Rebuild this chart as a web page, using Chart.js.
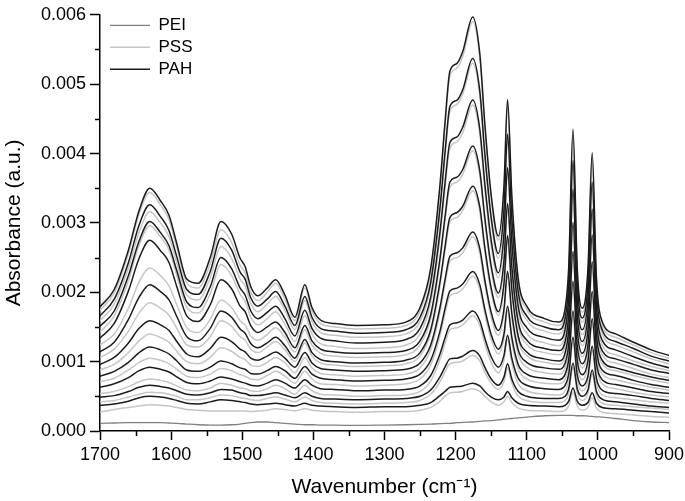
<!DOCTYPE html>
<html>
<head>
<meta charset="utf-8">
<script src="https://cdn.jsdelivr.net/npm/chart.js@4.4.1/dist/chart.umd.min.js"></script>
<style>
html,body{margin:0;padding:0;background:#fff;}
#wrap{width:685px;height:501px;position:relative;}
</style>
</head>
<body>
<div id="wrap"><canvas id="c"></canvas></div>
<script>
// Wavenumber grid (cm-1) shared by all spectra
const wavenumbers = [1700,1680,1660,1645,1630,1615,1603,1592,1578,1562,1545,1530,1515,1503,1496,1488,1478,1465,1453,1440,1426,1412,1402,1390,1370,1340,1300,1270,1250,1235,1222,1215,1208,1198,1190,1176,1166,1159,1150,1140,1132,1127,1121,1112,1100,1075,1055,1046,1041,1035,1029,1022,1014,1008,1002,994,975,950,925,900];

// Absorbance values, in units of 1e-3 a.u.
const pei = [0.11,0.115,0.12,0.12,0.12,0.12,0.115,0.11,0.10,0.09,0.085,0.085,0.09,0.10,0.11,0.12,0.13,0.13,0.12,0.11,0.10,0.09,0.09,0.085,0.085,0.08,0.085,0.09,0.095,0.10,0.105,0.11,0.11,0.12,0.125,0.13,0.14,0.145,0.15,0.16,0.17,0.175,0.18,0.19,0.20,0.22,0.225,0.225,0.225,0.225,0.22,0.22,0.215,0.21,0.205,0.20,0.18,0.15,0.13,0.12];

const pss1 = [0.27,0.31,0.34,0.36,0.38,0.37,0.36,0.34,0.31,0.30,0.29,0.29,0.29,0.29,0.29,0.28,0.29,0.30,0.32,0.31,0.29,0.32,0.30,0.29,0.28,0.27,0.28,0.28,0.30,0.34,0.43,0.50,0.55,0.56,0.57,0.61,0.57,0.50,0.42,0.37,0.42,0.50,0.41,0.33,0.30,0.29,0.28,0.30,0.36,0.55,0.36,0.30,0.34,0.48,0.33,0.27,0.25,0.23,0.21,0.20];
const pah1 = [0.37,0.39,0.43,0.48,0.50,0.49,0.47,0.44,0.40,0.39,0.42,0.45,0.44,0.42,0.41,0.39,0.38,0.39,0.40,0.38,0.36,0.40,0.37,0.36,0.35,0.34,0.35,0.35,0.37,0.41,0.51,0.57,0.63,0.64,0.65,0.69,0.65,0.57,0.49,0.45,0.49,0.57,0.48,0.40,0.37,0.36,0.35,0.37,0.43,0.62,0.43,0.37,0.41,0.55,0.40,0.34,0.32,0.30,0.28,0.26];
const pss2 = [0.42,0.44,0.49,0.53,0.56,0.55,0.53,0.50,0.45,0.45,0.48,0.52,0.51,0.48,0.47,0.45,0.44,0.47,0.49,0.46,0.42,0.49,0.44,0.41,0.40,0.39,0.40,0.41,0.44,0.53,0.71,0.85,0.97,0.99,1.01,1.09,1.01,0.85,0.69,0.60,0.71,0.91,0.69,0.50,0.44,0.41,0.41,0.44,0.55,0.92,0.55,0.44,0.53,0.82,0.51,0.40,0.37,0.35,0.33,0.31];
const pah2 = [0.49,0.51,0.57,0.63,0.66,0.64,0.62,0.58,0.53,0.52,0.55,0.60,0.59,0.55,0.54,0.51,0.51,0.53,0.55,0.52,0.48,0.55,0.50,0.47,0.46,0.45,0.46,0.47,0.50,0.59,0.78,0.92,1.04,1.05,1.08,1.16,1.08,0.92,0.75,0.66,0.78,0.97,0.75,0.57,0.50,0.47,0.47,0.50,0.61,0.98,0.61,0.50,0.59,0.88,0.57,0.46,0.42,0.39,0.36,0.34];
const pss3 = [0.54,0.57,0.64,0.71,0.75,0.73,0.70,0.65,0.59,0.58,0.62,0.69,0.66,0.62,0.61,0.58,0.57,0.61,0.66,0.61,0.53,0.66,0.58,0.53,0.52,0.50,0.51,0.52,0.57,0.72,1.03,1.26,1.46,1.49,1.53,1.66,1.52,1.26,0.99,0.84,1.02,1.32,0.98,0.68,0.58,0.53,0.52,0.58,0.74,1.29,0.74,0.58,0.72,1.16,0.69,0.52,0.48,0.45,0.42,0.40];
const pah3 = [0.63,0.68,0.77,0.87,0.92,0.89,0.85,0.78,0.70,0.68,0.72,0.78,0.75,0.71,0.69,0.66,0.65,0.69,0.74,0.69,0.62,0.74,0.66,0.61,0.60,0.58,0.59,0.60,0.65,0.80,1.11,1.34,1.53,1.56,1.60,1.73,1.59,1.34,1.07,0.92,1.09,1.38,1.05,0.76,0.66,0.61,0.60,0.66,0.82,1.35,0.81,0.65,0.79,1.22,0.76,0.59,0.54,0.51,0.47,0.44];
const pss4 = [0.71,0.76,0.88,0.99,1.05,1.02,0.97,0.89,0.79,0.77,0.82,0.90,0.87,0.81,0.79,0.75,0.74,0.80,0.86,0.79,0.69,0.86,0.75,0.68,0.67,0.65,0.66,0.68,0.75,0.95,1.37,1.69,1.95,1.99,2.05,2.23,2.04,1.69,1.32,1.11,1.34,1.74,1.29,0.89,0.75,0.69,0.68,0.75,0.96,1.67,0.95,0.74,0.95,1.56,0.91,0.68,0.61,0.56,0.52,0.49];
const pah4 = [0.79,0.86,0.99,1.13,1.21,1.17,1.11,1.01,0.88,0.86,0.92,1.01,0.97,0.91,0.89,0.83,0.82,0.87,0.93,0.87,0.76,0.93,0.82,0.76,0.74,0.72,0.73,0.75,0.82,1.02,1.44,1.76,2.02,2.06,2.12,2.30,2.11,1.76,1.39,1.18,1.40,1.80,1.35,0.96,0.82,0.76,0.74,0.82,1.03,1.73,1.02,0.81,1.01,1.62,0.97,0.74,0.67,0.62,0.57,0.54];
const pss5 = [0.88,0.96,1.13,1.30,1.40,1.35,1.28,1.15,1.00,0.97,1.06,1.20,1.15,1.06,1.03,0.95,0.93,0.99,1.06,0.98,0.84,1.06,0.91,0.83,0.81,0.79,0.80,0.82,0.91,1.17,1.71,2.11,2.45,2.50,2.57,2.80,2.56,2.11,1.64,1.38,1.70,2.24,1.63,1.10,0.92,0.84,0.82,0.91,1.19,2.10,1.18,0.91,1.17,1.95,1.11,0.82,0.74,0.68,0.63,0.59];
const pah5 = [0.96,1.06,1.27,1.48,1.59,1.53,1.45,1.29,1.11,1.07,1.19,1.35,1.29,1.18,1.14,1.05,1.02,1.08,1.14,1.05,0.92,1.13,0.98,0.90,0.88,0.86,0.87,0.89,0.98,1.24,1.78,2.18,2.52,2.57,2.64,2.87,2.63,2.18,1.71,1.45,1.76,2.30,1.70,1.17,0.99,0.91,0.89,0.98,1.25,2.16,1.24,0.97,1.23,2.01,1.18,0.88,0.80,0.73,0.67,0.63];
const pss6 = [1.06,1.18,1.44,1.70,1.85,1.77,1.67,1.48,1.24,1.21,1.36,1.59,1.51,1.36,1.31,1.18,1.13,1.21,1.29,1.17,1.00,1.27,1.08,0.98,0.95,0.93,0.94,0.97,1.08,1.41,2.09,2.59,3.02,3.08,3.18,3.46,3.16,2.59,2.00,1.67,2.07,2.76,1.99,1.32,1.09,0.99,0.96,1.08,1.41,2.53,1.40,1.07,1.40,2.38,1.33,0.97,0.87,0.80,0.74,0.69];
const pah6 = [1.14,1.28,1.61,1.93,2.11,2.01,1.89,1.65,1.36,1.30,1.48,1.73,1.64,1.47,1.41,1.26,1.20,1.27,1.35,1.23,1.05,1.32,1.13,1.03,1.00,0.98,0.99,1.02,1.13,1.46,2.15,2.65,3.08,3.15,3.24,3.53,3.23,2.65,2.06,1.72,2.13,2.82,2.05,1.37,1.14,1.04,1.01,1.13,1.46,2.59,1.46,1.12,1.45,2.44,1.39,1.02,0.91,0.84,0.78,0.73];
const pss7 = [1.24,1.40,1.77,2.15,2.35,2.24,2.09,1.82,1.49,1.42,1.61,1.89,1.78,1.59,1.53,1.37,1.31,1.39,1.49,1.35,1.14,1.46,1.24,1.12,1.08,1.06,1.07,1.10,1.24,1.62,2.42,3.02,3.52,3.59,3.70,4.04,3.68,3.02,2.32,1.92,2.40,3.22,2.31,1.52,1.25,1.13,1.10,1.23,1.63,2.95,1.62,1.23,1.62,2.77,1.54,1.10,0.98,0.90,0.82,0.77];
const pah7 = [1.34,1.55,2.02,2.49,2.75,2.60,2.43,2.08,1.66,1.58,1.82,2.18,2.05,1.80,1.72,1.52,1.42,1.50,1.57,1.42,1.20,1.52,1.30,1.18,1.14,1.12,1.13,1.16,1.30,1.68,2.49,3.08,3.59,3.66,3.77,4.11,3.75,3.08,2.38,1.99,2.46,3.28,2.37,1.58,1.31,1.19,1.16,1.29,1.69,3.01,1.68,1.29,1.68,2.83,1.60,1.16,1.04,0.96,0.88,0.83];
const pss8 = [1.43,1.66,2.17,2.68,2.96,2.80,2.61,2.24,1.78,1.70,1.98,2.40,2.24,1.97,1.87,1.64,1.53,1.62,1.72,1.54,1.29,1.66,1.40,1.26,1.22,1.19,1.20,1.24,1.40,1.85,2.79,3.49,4.08,4.17,4.30,4.70,4.28,3.49,2.67,2.21,2.78,3.75,2.67,1.73,1.41,1.27,1.23,1.39,1.86,3.43,1.85,1.39,1.83,3.14,1.73,1.24,1.10,1.01,0.93,0.87];
const pah8 = [1.51,1.73,2.24,2.74,3.02,2.86,2.67,2.31,1.86,1.78,2.08,2.50,2.34,2.06,1.96,1.73,1.62,1.71,1.80,1.62,1.37,1.74,1.48,1.34,1.30,1.27,1.28,1.32,1.48,1.93,2.87,3.57,4.16,4.24,4.38,4.77,4.35,3.57,2.75,2.28,2.85,3.80,2.73,1.80,1.49,1.35,1.31,1.47,1.93,3.49,1.92,1.46,1.90,3.20,1.80,1.31,1.17,1.07,0.98,0.91];
const pss9 = [1.59,1.83,2.35,2.87,3.16,3.00,2.80,2.42,1.96,1.89,2.21,2.66,2.49,2.19,2.09,1.84,1.72,1.83,1.94,1.74,1.46,1.88,1.58,1.42,1.38,1.35,1.36,1.40,1.58,2.09,3.15,3.94,4.61,4.71,4.86,5.30,4.83,3.94,3.02,2.49,3.13,4.22,3.01,1.95,1.60,1.44,1.40,1.57,2.09,3.84,2.08,1.57,2.06,3.53,1.95,1.40,1.24,1.14,1.04,0.97];
const pah9 = [1.66,1.90,2.43,2.97,3.26,3.09,2.89,2.51,2.04,1.97,2.30,2.78,2.61,2.29,2.19,1.92,1.80,1.90,2.01,1.80,1.52,1.94,1.64,1.48,1.44,1.41,1.42,1.46,1.64,2.15,3.22,4.01,4.68,4.77,4.92,5.37,4.90,4.01,3.08,2.56,3.20,4.28,3.07,2.01,1.66,1.50,1.46,1.63,2.15,3.90,2.14,1.63,2.12,3.59,2.01,1.46,1.29,1.19,1.08,1.01];
const pss10 = [1.74,1.99,2.56,3.13,3.44,3.26,3.05,2.64,2.14,2.06,2.41,2.90,2.72,2.39,2.28,2.00,1.88,2.00,2.13,1.90,1.59,2.06,1.73,1.55,1.50,1.47,1.48,1.52,1.73,2.30,3.49,4.38,5.12,5.23,5.40,5.90,5.37,4.38,3.34,2.75,3.48,4.70,3.33,2.14,1.75,1.57,1.52,1.72,2.31,4.28,2.30,1.71,2.28,3.95,2.16,1.53,1.35,1.24,1.13,1.05];
const pah10 = [1.79,2.04,2.61,3.18,3.50,3.32,3.11,2.70,2.19,2.13,2.50,3.02,2.84,2.49,2.37,2.08,1.95,2.06,2.18,1.96,1.64,2.11,1.78,1.60,1.55,1.52,1.53,1.57,1.78,2.35,3.55,4.44,5.19,5.30,5.47,5.97,5.44,4.44,3.40,2.81,3.54,4.78,3.40,2.20,1.80,1.62,1.57,1.77,2.36,4.35,2.35,1.77,2.33,4.01,2.21,1.58,1.40,1.28,1.17,1.09];

const pssLayers = [pss1,pss2,pss3,pss4,pss5,pss6,pss7,pss8,pss9,pss10];
const pahLayers = [pah1,pah2,pah3,pah4,pah5,pah6,pah7,pah8,pah9,pah10];

// Axis ticks
const xTicks = [900,1000,1100,1200,1300,1400,1500,1600,1700];
const xTickLabels = ['900','1000','1100','1200','1300','1400','1500','1600','1700'];
const xMinorTicks = [950,1050,1150,1250,1350,1450,1550,1650];
const yTicks = [0,0.001,0.002,0.003,0.004,0.005,0.006];
const yTickLabels = ['0.000','0.001','0.002','0.003','0.004','0.005','0.006'];
const yMinorTicks = [0.0005,0.0015,0.0025,0.0035,0.0045,0.0055];

const toPoints = arr => wavenumbers.map((w, i) => ({x: w, y: arr[i] / 1000}));

const FONT = '"Liberation Sans", Arial, Helvetica, sans-serif';
Chart.defaults.font.family = FONT;
Chart.defaults.color = '#000';

const datasets = [];
datasets.push({label: 'PEI', data: toPoints(pei), borderColor: '#808080', borderWidth: 1.3, order: 3});
for (let k = 0; k < 10; k++) {
  datasets.push({label: 'PSS', data: toPoints(pssLayers[k]), borderColor: '#c6c6c6', borderWidth: 1.5, order: 2});
  datasets.push({label: 'PAH', data: toPoints(pahLayers[k]), borderColor: '#1c1c1c', borderWidth: 1.5, order: 1});
}

const minorTicks = {
  id: 'minorTicks',
  beforeDraw(chart) {
    // place the in-plot legend like the original (top-left, slightly inset)
    if (chart.legend) {
      chart.legend.top = chart.chartArea.top - 3;
      chart.legend.left = chart.chartArea.left + 5;
    }
  },
  afterDraw(chart) {
    const {ctx, chartArea, scales} = chart;
    ctx.save();
    ctx.strokeStyle = '#000';
    ctx.lineWidth = 1.5;
    ctx.beginPath();
    xMinorTicks.forEach(v => {
      const px = Math.round(scales.x.getPixelForValue(v)) + 0.5;
      ctx.moveTo(px, chartArea.bottom);
      ctx.lineTo(px, chartArea.bottom + 5);
    });
    yMinorTicks.forEach(v => {
      const py = Math.round(scales.y.getPixelForValue(v)) + 0.5;
      ctx.moveTo(chartArea.left, py);
      ctx.lineTo(chartArea.left - 5, py);
    });
    ctx.stroke();
    ctx.restore();
  }
};

new Chart(document.getElementById('c'), {
  type: 'line',
  data: {datasets},
  plugins: [minorTicks],
  options: {
    responsive: true,
    maintainAspectRatio: false,
    animation: false,
    parsing: false,
    normalized: true,
    layout: {padding: {top: 11, right: 16, bottom: 0, left: 0}},
    elements: {
      point: {radius: 0, hoverRadius: 0},
      line: {cubicInterpolationMode: 'monotone', borderJoinStyle: 'round', borderCapStyle: 'round', fill: false}
    },
    plugins: {
      tooltip: {enabled: false},
      legend: {
        position: 'chartArea',
        align: 'start',
        labels: {
          filter: item => item.datasetIndex <= 2,
          sort: (a, b) => a.datasetIndex - b.datasetIndex,
          usePointStyle: true,
          pointStyle: 'line',
          pointStyleWidth: 40,
          padding: 5,
          color: '#000',
          font: {size: 17, family: FONT}
        }
      }
    },
    scales: {
      x: {
        type: 'linear',
        reverse: true,
        min: 900,
        max: 1700,
        afterBuildTicks: s => { s.ticks = xTicks.map(v => ({value: v})); },
        afterFit: s => { s.height = 70; },
        ticks: {
          autoSkip: false,
          maxRotation: 0,
          padding: 4,
          color: '#000',
          font: {size: 18, family: FONT},
          callback: (v, i) => xTickLabels[i]
        },
        grid: {display: true, drawOnChartArea: false, drawTicks: true, tickLength: 9, tickWidth: 1.5, tickColor: '#000'},
        border: {display: true, color: '#000', width: 1.5},
        title: {display: true, text: 'Wavenumber (cm⁻¹)', color: '#000', font: {size: 21, family: FONT}, padding: {top: 0, bottom: 1}}
      },
      y: {
        type: 'linear',
        min: 0,
        max: 0.006,
        afterBuildTicks: s => { s.ticks = yTicks.map(v => ({value: v})); },
        afterFit: s => { s.width = 100; },
        ticks: {
          autoSkip: false,
          padding: 4,
          color: '#000',
          font: {size: 18, family: FONT},
          callback: (v, i) => yTickLabels[i]
        },
        grid: {display: true, drawOnChartArea: false, drawTicks: true, tickLength: 10, tickWidth: 1.5, tickColor: '#000'},
        border: {display: true, color: '#000', width: 1.5},
        title: {display: true, text: 'Absorbance (a.u.)', color: '#000', font: {size: 21, family: FONT}, padding: {top: 2, bottom: 0}}
      }
    }
  }
});
</script>
</body>
</html>
